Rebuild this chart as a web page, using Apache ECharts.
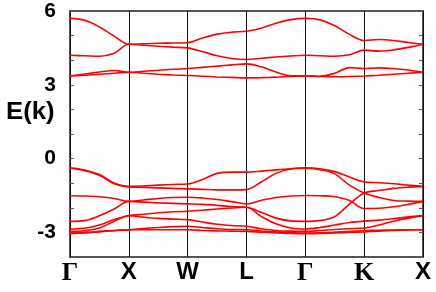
<!DOCTYPE html>
<html><head><meta charset="utf-8">
<script src="https://cdn.jsdelivr.net/npm/echarts@6/dist/echarts.min.js"></script>
<style>html,body{margin:0;padding:0;background:#fff}#c{width:436px;height:292px}</style>
</head><body><div id="c"></div><script>
// k-path: high-symmetry labels and sample positions along the path (segment length = 1)
const kLabels = ['Γ','X','W','L','Γ','K','X'];
const kGrid = [0,0.25,0.5,0.75,1, 1.25,1.5,1.75,2, 2.25,2.5,2.75,3, 3.25,3.5,3.75,4, 4.25,4.5,4.75,5, 5.25,5.5,5.75,6];
const yTickLabels = [6,3,0,-3];

// conduction bands (eV)
const u4 = [5.70,5.62,5.35,4.98,4.65, 4.67,4.69,4.70,4.71, 4.90,5.06,5.14,5.18, 5.30,5.50,5.65,5.70, 5.64,5.40,5.05,4.80, 4.84,4.80,4.72,4.65];
const u3 = [4.20,4.18,4.16,4.28,4.65, 4.61,4.57,4.53,4.50, 4.35,4.18,4.07,4.03, 4.08,4.13,4.17,4.20, 4.18,4.16,4.22,4.41, 4.37,4.42,4.52,4.65];
const u2 = [3.36,3.44,3.52,3.58,3.51, 3.55,3.59,3.63,3.66, 3.71,3.76,3.81,3.85, 3.73,3.52,3.37,3.36, 3.35,3.47,3.70,3.66, 3.69,3.66,3.60,3.51];
const u1 = [3.36,3.39,3.43,3.47,3.51, 3.47,3.43,3.40,3.38, 3.35,3.32,3.30,3.28, 3.29,3.31,3.34,3.36, 3.34,3.33,3.34,3.36, 3.39,3.43,3.47,3.51];
// valence bands (eV)
const v1 = [-0.37,-0.46,-0.65,-0.99,-1.13, -1.11,-1.08,-1.05,-1.03, -0.85,-0.60,-0.55,-0.55, -0.51,-0.46,-0.41,-0.37, -0.41,-0.53,-0.75,-0.95, -0.98,-1.02,-1.08,-1.13];
const v2 = [-0.39,-0.49,-0.68,-1.02,-1.15, -1.17,-1.19,-1.21,-1.23, -1.25,-1.27,-1.27,-1.26, -0.95,-0.60,-0.42,-0.39, -0.45,-0.62,-1.08,-1.40, -1.58,-1.70,-1.73,-1.74];
const v3 = [-1.51,-1.52,-1.55,-1.62,-1.74, -1.68,-1.62,-1.58,-1.57, -1.60,-1.66,-1.75,-1.84, -1.70,-1.58,-1.52,-1.50, -1.51,-1.55,-1.70,-2.03, -2.02,-1.96,-1.86,-1.74];
const v4 = [-2.55,-2.52,-2.32,-2.05,-1.74, -1.77,-1.80,-1.82,-1.84, -1.86,-1.90,-1.95,-1.98, -2.18,-2.42,-2.53,-2.55, -2.52,-2.36,-1.85,-1.40, -1.30,-1.21,-1.16,-1.13];
const v5 = [-2.86,-2.83,-2.70,-2.48,-2.32, -2.26,-2.20,-2.16,-2.14, -2.10,-2.05,-2.01,-1.98, -2.35,-2.65,-2.82,-2.86, -2.80,-2.70,-2.60,-2.54, -2.50,-2.44,-2.37,-2.32];
const v6 = [-2.96,-2.93,-2.82,-2.55,-2.32, -2.38,-2.43,-2.46,-2.48, -2.58,-2.67,-2.72,-2.75, -2.85,-2.92,-2.95,-2.96, -2.92,-2.88,-2.85,-2.82, -2.70,-2.55,-2.42,-2.32];
const v7 = [-3.03,-3.00,-2.96,-2.92,-2.89, -2.84,-2.80,-2.77,-2.75, -2.80,-2.85,-2.88,-2.89, -2.94,-2.98,-3.01,-3.03, -3.02,-2.99,-2.96,-2.93, -2.91,-2.90,-2.89,-2.89];
const v8 = [-3.05,-3.02,-2.98,-2.93,-2.89, -2.89,-2.89,-2.89,-2.89, -2.92,-2.94,-2.95,-2.96, -2.99,-3.02,-3.04,-3.05, -3.04,-3.02,-3.00,-2.98, -2.95,-2.92,-2.90,-2.89];

const bands = [u4,u3,u2,u1,v1,v2,v3,v4,v5,v6,v7,v8];
const serifLabels = ['Γ','K'];

const chart = echarts.init(document.getElementById('c'), null, {renderer:'canvas'});
const yAxisBase = {
  type:'value', min:-4, max:6, interval:1,
  axisLine:{show:false}, splitLine:{show:false},
  axisTick:{show:true, inside:true, length:4, lineStyle:{color:'#555', width:1}}
};
chart.setOption({
  animation:false,
  grid:{left:70, right:13, top:11, bottom:35, show:true, borderColor:'#555', borderWidth:2, backgroundColor:'transparent'},
  xAxis:{
    type:'value', min:0, max:6, interval:1,
    axisLine:{show:false}, axisTick:{show:false},
    splitLine:{show:true, lineStyle:{color:'#111', width:1}},
    axisLabel:{
      margin:3,
      formatter:(v)=>{const l = kLabels[Math.round(v)]; return serifLabels.includes(l) ? '{g|'+l+'}' : '{s|'+l+'}';},
      rich:{
        s:{fontFamily:'Liberation Sans', fontWeight:'bold', fontSize:24, color:'#000'},
        g:{fontFamily:'Liberation Serif', fontWeight:'bold', fontSize:26, color:'#000'}
      }
    }
  },
  yAxis:[
    Object.assign({}, yAxisBase, {position:'left', axisLabel:{margin:14, fontFamily:'Liberation Sans', fontWeight:'bold', fontSize:21, color:'#000',
      formatter:(v)=> yTickLabels.includes(v) ? String(v) : ''}}),
    Object.assign({}, yAxisBase, {position:'right', axisLabel:{show:false}})
  ],
  graphic:[{type:'text', x:6, y:101, scaleX:1.17, scaleY:1.05, style:{text:'E(k)', fontFamily:'Liberation Sans', fontWeight:'bold', fontSize:22, fill:'#000'}}],
  series: bands.map(b=>({
    type:'line', showSymbol:false, smooth:0.35, silent:true,
    lineStyle:{color:'#ff0000', width:1.6},
    data: kGrid.map((x,i)=>[x, b[i]])
  }))
});
</script></body></html>
